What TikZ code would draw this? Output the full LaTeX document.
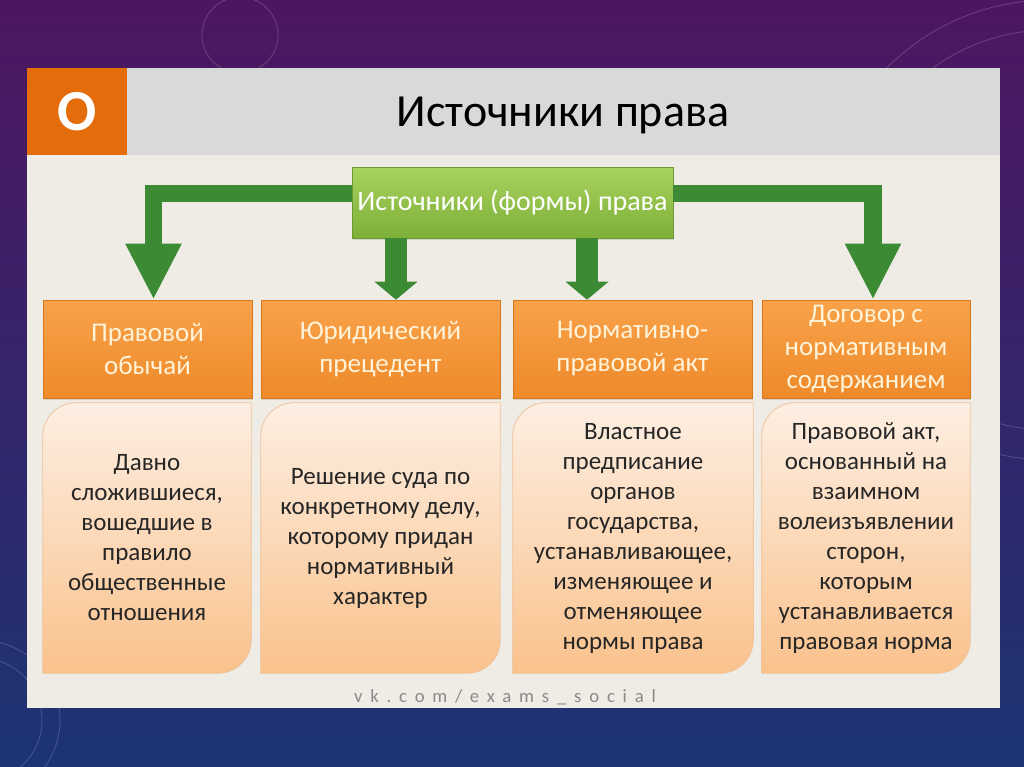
\documentclass[tikz,border=0pt]{standalone}
\usepackage{fontspec}
\setmainfont{Carlito}
\usetikzlibrary{arrows.meta,calc,shadows}

\definecolor{bgtop}{HTML}{4E1660}
\definecolor{bgbot}{HTML}{1C3474}
\definecolor{panel}{HTML}{EEECE5}
\definecolor{bargray}{HTML}{D9D9D9}
\definecolor{markorange}{HTML}{E46C0A}
\definecolor{greentop}{HTML}{A8D25E}
\definecolor{greenbot}{HTML}{7DB038}
\definecolor{greenline}{HTML}{6A9A32}
\definecolor{arrowgreen}{HTML}{3C8A33}
\definecolor{headtop}{HTML}{F8A24A}
\definecolor{headbot}{HTML}{EE8A2A}
\definecolor{headline}{HTML}{DA7719}
\definecolor{headtext}{HTML}{FFF3D9}
\definecolor{desctop}{HTML}{FDEFE3}
\definecolor{descbot}{HTML}{FAC28C}
\definecolor{descline}{HTML}{EFC29A}
\definecolor{desctextc}{HTML}{262626}
\definecolor{sitegray}{HTML}{8A8A8A}

\pgfdeclarelayer{back}
\pgfdeclarelayer{boxes}
\pgfsetlayers{back,boxes,main}

\tikzset{
  srcbox/.style={draw=greenline, top color=greentop, bottom color=greenbot,
    text=white, font=\fontsize{21}{25}\selectfont, inner sep=0pt,
    minimum width=240.75pt, minimum height=53.25pt,
    drop shadow={opacity=0.25, shadow xshift=1pt, shadow yshift=-1.5pt}},
  headbox/.style={draw=headline, top color=headtop, bottom color=headbot,
    text=headtext, font=\fontsize{20.25}{24.75}\selectfont, align=center,
    minimum height=73.5pt, inner sep=0pt,
    drop shadow={opacity=0.25, shadow xshift=1pt, shadow yshift=-1.5pt}},
  desctext/.style={text=desctextc, font=\fontsize{18.75}{22.5}\selectfont,
    align=center, minimum height=202.5pt, inner sep=0pt},
  descshape/.style={draw=descline, line width=0.6pt, top color=desctop, bottom color=descbot},
  bigarrow/.style={draw=arrowgreen, line width=13pt, -{Triangle[width=39pt,length=42pt]}},
  smallarrow/.style={draw=arrowgreen, line width=16.5pt, -{Triangle[width=31.5pt,length=13.5pt]}},
  faint/.style={draw=white, opacity=0.18, line width=0.6pt},
}

\begin{document}
\begin{tikzpicture}[x=0.75pt, y=-0.75pt]
  \useasboundingbox (0,0) rectangle (1024,767);

  % slide backdrop
  \begin{pgfonlayer}{back}
    \shade[top color=bgtop, bottom color=bgbot] (0,0) rectangle (1024,767);
    \begin{scope}
      \clip (0,0) rectangle (1024,767);
      \draw[faint] (240,35) circle (38);
      \draw[faint] (1050,230) circle (230);
      \draw[faint] (1050,230) circle (200);
      \draw[faint] (-20,720) circle (80);
      \draw[faint] (-20,720) circle (62);
    \end{scope}
    \fill[panel] (27,68) rectangle (1000,708);
    \fill[bargray] (127,68) rectangle (1000,155);
    \fill[markorange] (27,68) rectangle (127,155);
  \end{pgfonlayer}

  \node[text=white, font=\fontsize{43.5}{50}\selectfont\bfseries] (mark) at (77,112) {O};
  \node[font=\fontsize{34.5}{40}\selectfont] (title) at (563,115) {Источники права};

  \node[srcbox] (src) at (512.5,202.5) {Источники (формы) права};

  \node[headbox, minimum width=156.75pt] (h1) at (147.5,349) {Правовой\\обычай};
  \node[headbox, minimum width=179.25pt] (h2) at (380.5,349) {Юридический\\прецедент};
  \node[headbox, minimum width=179.25pt] (h3) at (632.5,349) {Нормативно-\\правовой акт};
  \node[headbox, minimum width=156pt] (h4) at (866,349) {Договор с\\нормативным\\содержанием};

  \node[desctext, minimum width=156pt] (d1) at (147,538)
    {Давно\\сложившиеся,\\вошедшие в\\правило\\общественные\\отношения};
  \node[desctext, minimum width=179.25pt] (d2) at (380.5,538)
    {Решение суда по\\конкретному делу,\\которому придан\\нормативный\\характер};
  \node[desctext, minimum width=180pt] (d3) at (633,538)
    {Властное\\предписание\\органов\\государства,\\устанавливающее,\\изменяющее и\\отменяющее\\нормы права};
  \node[desctext, minimum width=156pt] (d4) at (866,538)
    {Правовой акт,\\основанный на\\взаимном\\волеизъявлении\\сторон,\\которым\\устанавливается\\правовая норма};

  \begin{pgfonlayer}{boxes}
    \foreach \d in {d1,d2,d3,d4}
      \shade[descshape] (\d.south west) [rounded corners=25pt] -- (\d.north west)
        [sharp corners] -- (\d.north east) [rounded corners=25pt] -- (\d.south east)
        [sharp corners] -- cycle;
  \end{pgfonlayer}

  % arrows
  \draw[bigarrow] ($(src.west)+(0,-9)$) -| ([xshift=4.5pt]h1.north);
  \draw[bigarrow] ($(src.east)+(0,-9)$) -| ([xshift=5.25pt]h4.north);
  \coordinate (s1) at ([xshift=-87.4pt]src.south);
  \coordinate (s2) at ([xshift=55.9pt]src.south);
  \draw[smallarrow] (s1) -- (s1 |- h2.north);
  \draw[smallarrow] (s2) -- (s2 |- h3.north);

  \node[text=sitegray, font=\fontsize{14}{16}\selectfont\addfontfeature{LetterSpace=42}]
    (site) at (505,697) {vk.com/exams\_social};
\end{tikzpicture}
\end{document}
